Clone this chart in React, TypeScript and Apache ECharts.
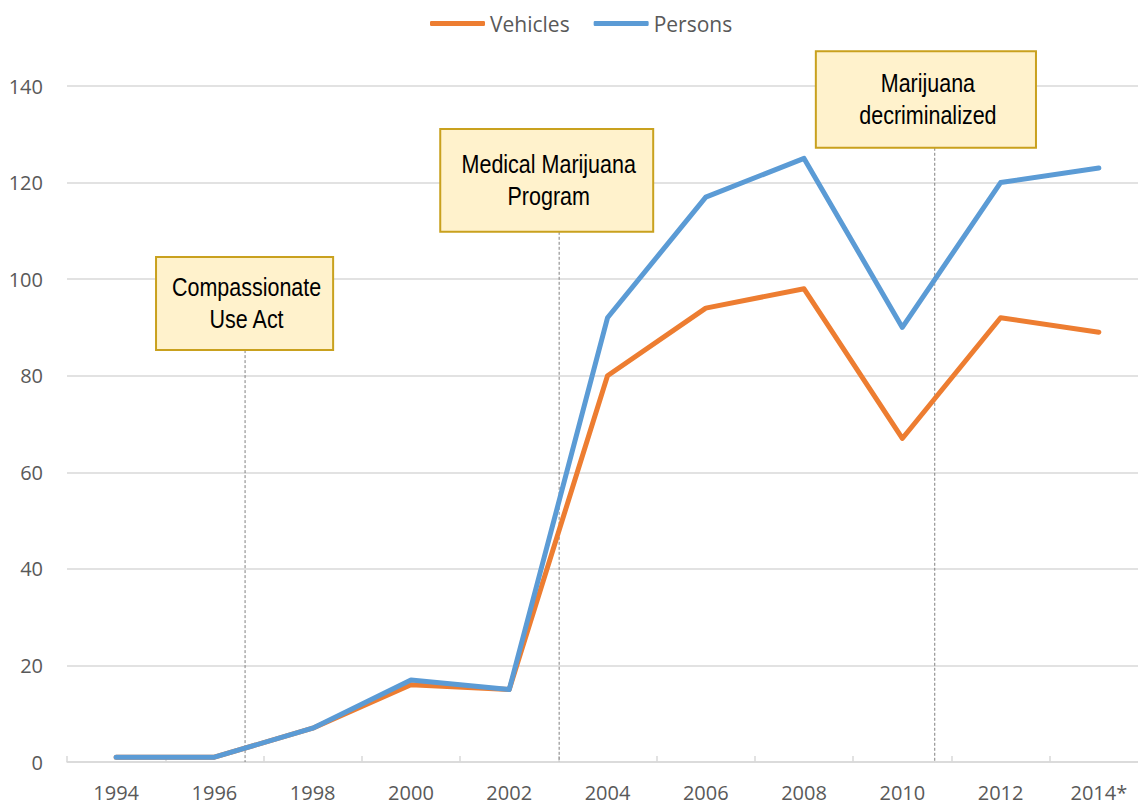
import React, { useEffect, useRef } from "react";
import * as echarts from "echarts";

const categories = ["1994", "1996", "1998", "2000", "2002", "2004", "2006", "2008", "2010", "2012", "2014*"];
const vehicles = [1, 1, 7, 16, 15, 80, 94, 98, 67, 92, 89];
const persons = [1, 1, 7, 17, 15, 92, 117, 125, 90, 120, 123];
const yTicks = { min: 0, max: 140, interval: 20 };

// annotation: [lineX (category index), boxLeft, boxRight, boxTop (value), boxBottom (value)]
const annotationLabels = ["Compassionate\nUse Act", "Medical Marijuana\nProgram", "Marijuana\ndecriminalized"];
const annotationLineX = [1.312, 4.508, 8.33];
const annotationBoxX = [[0.406, 2.208], [3.298, 5.465], [7.12, 9.36]];
const annotationBoxY = [[104.6, 85.3], [131.1, 109.8], [147.2, 127.2]];

const FONT = "'Open Sans', 'DejaVu Sans', sans-serif";
const NARROW = "'Liberation Sans', Arial, sans-serif";

export default function App() {
  const ref = useRef<HTMLDivElement>(null);
  useEffect(() => {
    if (!ref.current) return;
    const chart = echarts.init(ref.current, undefined, { renderer: "svg" });
    const annData = annotationLabels.map((label, i) => ({
      value: [annotationLineX[i], annotationBoxX[i][0], annotationBoxX[i][1], annotationBoxY[i][0], annotationBoxY[i][1]],
      label,
    }));
    chart.setOption({
      animation: false,
      backgroundColor: "#ffffff",
      legend: {
        top: 8,
        left: 425,
        itemWidth: 55,
        itemHeight: 5,
        itemGap: 24,
        icon: "roundRect",
        textStyle: { fontFamily: FONT, fontSize: 21, color: "#595959" },
        data: ["Vehicles", "Persons"],
      },
      grid: { left: 67, width: 1081, top: 86, bottom: 42, containLabel: false },
      xAxis: [
        {
          type: "category",
          data: categories,
          boundaryGap: true,
          axisLine: { lineStyle: { color: "#d9d9d9", width: 1.5 } },
          axisTick: { show: true, inside: true, length: 6, lineStyle: { color: "#d9d9d9", width: 1.5 } },
          axisLabel: { fontFamily: FONT, fontSize: 20, color: "#595959", margin: 20 },
          splitLine: { show: false },
        },
        {
          type: "value",
          min: -0.5,
          max: 10.5,
          show: false,
        },
      ],
      yAxis: {
        type: "value",
        min: yTicks.min,
        max: yTicks.max,
        interval: yTicks.interval,
        axisLine: { show: false },
        axisTick: { show: false },
        axisLabel: { fontFamily: FONT, fontSize: 20, color: "#595959", margin: 24 },
        splitLine: { lineStyle: { color: "#d9d9d9", width: 1.5 } },
      },
      series: [
        {
          type: "custom",
          xAxisIndex: 1,
          yAxisIndex: 0,
          clip: false,
          silent: true,
          z: 1,
          data: annData,
          renderItem: (params: any, api: any) => {
            const lx = api.value(0);
            const bl = api.value(1);
            const br = api.value(2);
            const bt = api.value(3);
            const bb = api.value(4);
            const p1 = api.coord([bl, bt]);
            const p2 = api.coord([br, bb]);
            const lTop = api.coord([lx, bb]);
            const lBot = api.coord([lx, 0]);
            const label = annotationLabels[params.dataIndex];
            return {
              type: "group",
              children: [
                {
                  type: "line",
                  shape: { x1: lTop[0], y1: lTop[1], x2: lBot[0], y2: lBot[1] },
                  style: { stroke: "#808080", lineWidth: 1, lineDash: [3, 2] },
                },
                {
                  type: "rect",
                  shape: { x: p1[0], y: p1[1], width: p2[0] - p1[0], height: p2[1] - p1[1] },
                  style: { fill: "#FFF2CC", stroke: "#C9A11E", lineWidth: 2 },
                },
                {
                  type: "text",
                  x: (p1[0] + p2[0]) / 2 + 2,
                  y: (p1[1] + p2[1]) / 2,
                  scaleX: 0.86,
                  style: {
                    text: label,
                    fontFamily: NARROW,
                    fontSize: 25,
                    lineHeight: 32,
                    fill: "#000000",
                    align: "center",
                    verticalAlign: "middle",
                  },
                },
              ],
            };
          },
        },
        {
          name: "Vehicles",
          type: "line",
          data: vehicles,
          symbol: "none",
          z: 3,
          lineStyle: { color: "#ED7D31", width: 5, cap: "round", join: "round" },
          itemStyle: { color: "#ED7D31" },
        },
        {
          name: "Persons",
          type: "line",
          data: persons,
          symbol: "none",
          z: 4,
          lineStyle: { color: "#5B9BD5", width: 5, cap: "round", join: "round" },
          itemStyle: { color: "#5B9BD5" },
        },
      ],
    });
    return () => chart.dispose();
  }, []);
  return (
    <div style={{ position: "fixed", left: 0, top: 0, width: 1138, height: 804, overflow: "hidden", background: "#fff" }}>
      <div ref={ref} style={{ width: 1150, height: 804 }} />
    </div>
  );
}
